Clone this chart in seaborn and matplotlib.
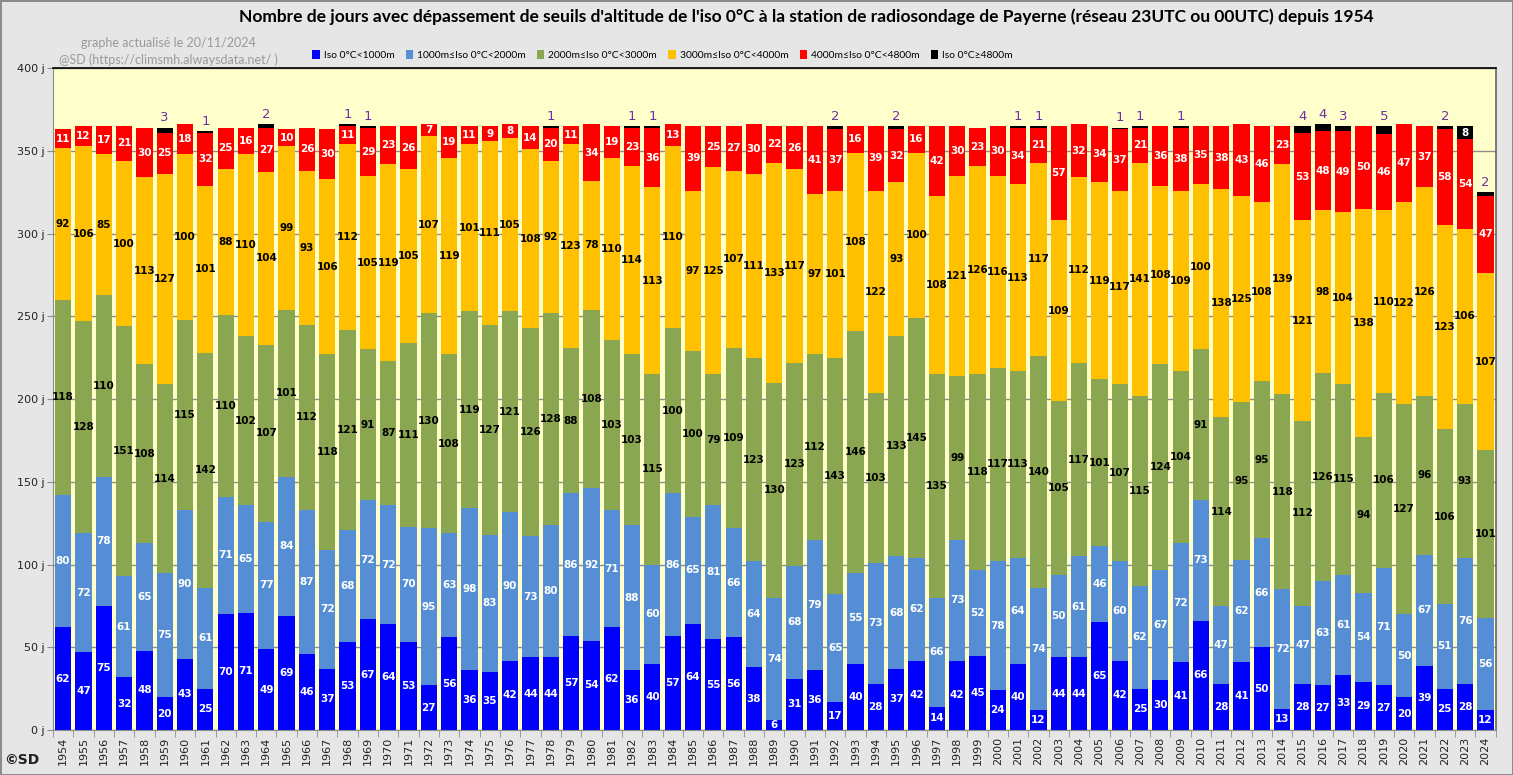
import numpy as np
import matplotlib.pyplot as plt
import seaborn as sns
from matplotlib.patches import Patch

# =========================================
# DATA (days per year, Payerne 0°C isotherm)
# =========================================

years = [str(y) for y in range(1954, 2025)]

iso_lt1000 = [62, 47, 75, 32, 48, 20, 43, 25, 70, 71,
              49, 69, 46, 37, 53, 67, 64, 53, 27, 56,
              36, 35, 42, 44, 44, 57, 54, 62, 36, 40,
              57, 64, 55, 56, 38, 6, 31, 36, 17, 40,
              28, 37, 42, 14, 42, 45, 24, 40, 12, 44,
              44, 65, 42, 25, 30, 41, 66, 28, 41, 50,
              13, 28, 27, 33, 29, 27, 20, 39, 25, 28,
              12]

iso_1000_2000 = [80, 72, 78, 61, 65, 75, 90, 61, 71, 65,
                 77, 84, 87, 72, 68, 72, 72, 70, 95, 63,
                 98, 83, 90, 73, 80, 86, 92, 71, 88, 60,
                 86, 65, 81, 66, 64, 74, 68, 79, 65, 55,
                 73, 68, 62, 66, 73, 52, 78, 64, 74, 50,
                 61, 46, 60, 62, 67, 72, 73, 47, 62, 66,
                 72, 47, 63, 61, 54, 71, 50, 67, 51, 76,
                 56]

iso_2000_3000 = [118, 128, 110, 151, 108, 114, 115, 142, 110, 102,
                 107, 101, 112, 118, 121, 91, 87, 111, 130, 108,
                 119, 127, 121, 126, 128, 88, 108, 103, 103, 115,
                 100, 100, 79, 109, 123, 130, 123, 112, 143, 146,
                 103, 133, 145, 135, 99, 118, 117, 113, 140, 105,
                 117, 101, 107, 115, 124, 104, 91, 114, 95, 95,
                 118, 112, 126, 115, 94, 106, 127, 96, 106, 93,
                 101]

iso_3000_4000 = [92, 106, 85, 100, 113, 127, 100, 101, 88, 110,
                 104, 99, 93, 106, 112, 105, 119, 105, 107, 119,
                 101, 111, 105, 108, 92, 123, 78, 110, 114, 113,
                 110, 97, 125, 107, 111, 133, 117, 97, 101, 108,
                 122, 93, 100, 108, 121, 126, 116, 113, 117, 109,
                 112, 119, 117, 141, 108, 109, 100, 138, 125, 108,
                 139, 121, 98, 104, 138, 110, 122, 126, 123, 106,
                 107]

iso_4000_4800 = [11, 12, 17, 21, 30, 25, 18, 32, 25, 16,
                 27, 10, 26, 30, 11, 29, 23, 26, 7, 19,
                 11, 9, 8, 14, 20, 11, 34, 19, 23, 36,
                 13, 39, 25, 27, 30, 22, 26, 41, 37, 16,
                 39, 32, 16, 42, 30, 23, 30, 34, 21, 57,
                 32, 34, 37, 21, 36, 38, 35, 38, 43, 46,
                 23, 53, 48, 49, 50, 46, 47, 37, 58, 54,
                 47]

iso_ge4800 = [0, 0, 0, 0, 0, 3, 0, 1, 0, 0,
              2, 0, 0, 0, 1, 1, 0, 0, 0, 0,
              0, 0, 0, 0, 1, 0, 0, 0, 1, 1,
              0, 0, 0, 0, 0, 0, 0, 0, 2, 0,
              0, 2, 0, 0, 0, 0, 0, 1, 1, 0,
              0, 0, 1, 1, 0, 1, 0, 0, 0, 0,
              0, 4, 4, 3, 0, 5, 0, 0, 2, 8,
              2]

series_labels = ["Iso 0°C<1000m", "1000m≤Iso 0°C<2000m", "2000m≤Iso 0°C<3000m",
                 "3000m≤Iso 0°C<4000m", "4000m≤Iso 0°C<4800m", "Iso 0°C≥4800m"]

# =========================================
# STYLE
# =========================================

colors = ["#0000FF", "#558ED5", "#8BA650", "#FFC000", "#FF0000", "#000000"]
text_colors = ["white", "white", "black", "black", "white", "white"]
fig_bg = "#E6E6E6"
plot_bg = "#FFFFCC"
purple = "#7030A0"

plt.rcParams["font.family"] = ["DejaVu Sans"]

series = np.array([iso_lt1000, iso_1000_2000, iso_2000_3000,
                   iso_3000_4000, iso_4000_4800, iso_ge4800])
cum = np.cumsum(series, axis=0)

fig = plt.figure(figsize=(15.13, 7.75), dpi=100, facecolor=fig_bg,
                 edgecolor="#8C8C8C", linewidth=2)
ax = fig.add_axes([0.035, 0.058, 0.9535, 0.854])
ax.set_facecolor(plot_bg)

# =========================================
# STACKED BARS (cumulative, drawn top layer first)
# =========================================

for i in range(5, -1, -1):
    sns.barplot(x=years, y=cum[i], color=colors[i], saturation=1,
                width=0.8, errorbar=None, linewidth=0, ax=ax, zorder=2)

# value labels
for j in range(len(years)):
    for i in range(6):
        v = series[i, j]
        if v == 0:
            continue
        bottom = cum[i, j] - v
        if i == 5 and v <= 5:
            ax.text(j, cum[i, j] + 6, str(v), ha="center", va="center",
                    fontsize=9.5, color=purple, zorder=4)
        else:
            ax.text(j, bottom + v / 2, str(v), ha="center", va="center",
                    fontsize=7.5, fontweight="bold", color=text_colors[i],
                    zorder=4)

# =========================================
# AXES
# =========================================

ax.set_xlim(-0.5, len(years) - 0.5)
ax.set_ylim(0, 400)
yt = np.arange(0, 401, 50)
ax.set_yticks(yt)
ax.set_yticklabels([f"{t} j" for t in yt], fontsize=8, color="#222222")
ax.yaxis.grid(True, color="#8C8C8C", linewidth=1, zorder=0)
ax.set_axisbelow(True)
ax.set_xlabel("")
ax.set_ylabel("")

ax.set_xticks(range(len(years)))
ax.set_xticklabels(years, rotation=90, fontsize=8, color="#222222")
ax.tick_params(axis="x", which="major", length=0, pad=5)
ax.set_xticks(np.arange(-0.5, len(years), 1), minor=True)
ax.tick_params(axis="x", which="minor", length=5, color="#8C8C8C")
ax.tick_params(axis="y", length=4, color="#8C8C8C", pad=2)

for side in ["left", "bottom"]:
    ax.spines[side].set_color("#8C8C8C")
ax.spines["top"].set_color("black")
ax.spines["top"].set_linewidth(1.2)
ax.spines["right"].set_color("#666666")
ax.spines["right"].set_linewidth(1.2)

# =========================================
# LEGEND AND TEXT
# =========================================

handles = [Patch(facecolor=c, edgecolor="none") for c in colors]
fig.legend(handles, series_labels, loc="center", bbox_to_anchor=(0.438, 0.929),
           ncol=6, frameon=False, handlelength=0.7, handleheight=0.9,
           handletextpad=0.4, columnspacing=1.1, prop={"family": "Lato", "size": 7.4})

fig.text(0.533, 0.978,
         "Nombre de jours avec dépassement de seuils d'altitude de l'iso 0°C à la station "
         "de radiosondage de Payerne (réseau 23UTC ou 00UTC) depuis 1954",
         ha="center", va="center", fontsize=12.5, fontweight="bold",
         family="Lato")
fig.text(0.111, 0.944, "graphe actualisé le 20/11/2024", ha="center", va="center",
         fontsize=9, color="#9A9A9A", family="Lato")
fig.text(0.111, 0.923, "@SD (https://climsmh.alwaysdata.net/ )", ha="center",
         va="center", fontsize=9, color="#9A9A9A", family="Lato")
fig.text(0.003, 0.02, "©SD", ha="left", va="center", fontsize=10,
         fontweight="bold", color="#222222")

fig.savefig("out.png", dpi=100, facecolor=fig.get_facecolor(),
            edgecolor=fig.get_edgecolor())
